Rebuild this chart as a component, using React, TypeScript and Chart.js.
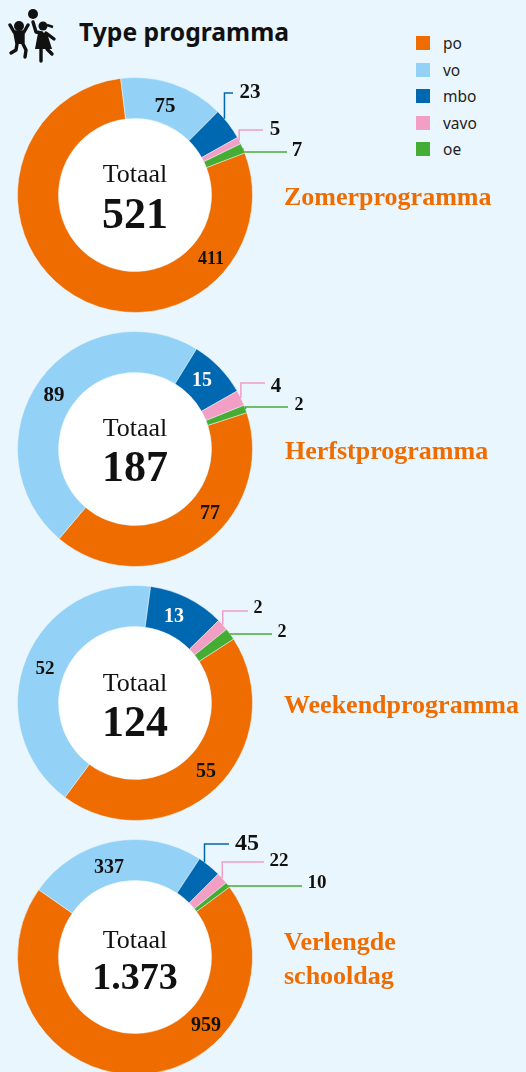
import React, { useEffect, useRef } from "react";
import { Chart, registerables } from "chart.js";

Chart.register(...registerables);

const categories = ["po", "vo", "mbo", "vavo", "oe"];
const colors = ["#EE6C00", "#93D2F6", "#0067B1", "#F29EC5", "#46AD34"];
const programNames = [["Zomerprogramma"], ["Herfstprogramma"], ["Weekendprogramma"], ["Verlengde", "schooldag"]];
const zomerValues = [411, 75, 23, 5, 7];
const herfstValues = [77, 89, 15, 4, 2];
const weekendValues = [55, 52, 13, 2, 2];
const verlengdValues = [959, 337, 45, 22, 10];
const totals = ["521", "187", "124", "1.373"];
const rotations = [69, 72, 57, 53.5];

const BG = "#EAF6FD";
const INK = "#111111";
const SERIF = '"Liberation Serif", serif';
const SANS = '"Noto Sans", sans-serif';

type LabelSpec = { i: number; x: number; y: number; size: number; elbow?: number; end?: number; frac?: number };

const layouts = [
  {
    top: 68, series: zomerValues, titleX: 284, titleY: [206], totalSize: 44, totalY: 22, caption: -20,
    labels: [
      { i: 0, x: 76, y: 64, size: 18 }, { i: 1, x: 30, y: -88, size: 21 },
      { i: 2, x: 115, y: -102, size: 21, elbow: -102, end: 98, frac: 0.3 },
      { i: 3, x: 140, y: -65, size: 21, elbow: -65, end: 128 },
      { i: 4, x: 162, y: -44, size: 21, elbow: -43, end: 152 },
    ] as LabelSpec[],
  },
  {
    top: 322, series: herfstValues, titleX: 285, titleY: [460], totalSize: 44, totalY: 21, caption: -20,
    labels: [
      { i: 0, x: 75, y: 65, size: 20 }, { i: 1, x: -81, y: -53, size: 21 },
      { i: 2, x: 67, y: -68, size: 20 },
      { i: 3, x: 141, y: -62, size: 21, elbow: -66, end: 130 },
      { i: 4, x: 164, y: -44, size: 18, elbow: -42, end: 153 },
    ] as LabelSpec[],
  },
  {
    top: 576, series: weekendValues, titleX: 284, titleY: [714], totalSize: 44, totalY: 22, caption: -19,
    labels: [
      { i: 0, x: 71, y: 69, size: 20 }, { i: 1, x: -90, y: -34, size: 19 },
      { i: 2, x: 39, y: -86, size: 20 },
      { i: 3, x: 123, y: -95, size: 18, elbow: -92, end: 113 },
      { i: 4, x: 147, y: -71, size: 18, elbow: -69, end: 137 },
    ] as LabelSpec[],
  },
  {
    top: 830, series: verlengdValues, titleX: 284, titleY: [951, 985], totalSize: 38, totalY: 22, caption: -16,
    labels: [
      { i: 0, x: 71, y: 69, size: 20 }, { i: 1, x: -26, y: -89, size: 20 },
      { i: 2, x: 112, y: -113, size: 24, elbow: -113, end: 94, frac: 0.25 },
      { i: 3, x: 144, y: -96, size: 19, elbow: -95, end: 129 },
      { i: 4, x: 182, y: -74, size: 19, elbow: -71, end: 167 },
    ] as LabelSpec[],
  },
];

function Donut({ index }: { index: number }) {
  const ref = useRef<HTMLCanvasElement>(null);
  const cfg = layouts[index];
  useEffect(() => {
    const annotate = {
      id: "annotate",
      afterDatasetsDraw(chart: any) {
        const ctx = chart.ctx as CanvasRenderingContext2D;
        const arcs = chart.getDatasetMeta(0).data;
        const cx = arcs[0].x;
        const cy = arcs[0].y;
        ctx.save();
        ctx.textAlign = "center";
        ctx.textBaseline = "middle";
        ctx.fillStyle = INK;
        ctx.font = `400 26px ${SERIF}`;
        ctx.fillText("Totaal", cx, cy + cfg.caption);
        ctx.font = `700 ${cfg.totalSize}px ${SERIF}`;
        ctx.fillText(totals[index], cx, cy + cfg.totalY);
        for (const l of cfg.labels) {
          if (l.elbow !== undefined && l.end !== undefined) {
            const a = arcs[l.i];
            const f = l.frac ?? 0.5;
            const mid = a.startAngle + (a.endAngle - a.startAngle) * f;
            const px = cx + a.outerRadius * Math.cos(mid);
            const py = cy + a.outerRadius * Math.sin(mid);
            ctx.strokeStyle = colors[l.i];
            ctx.lineWidth = 1.5;
            ctx.beginPath();
            ctx.moveTo(px, py);
            ctx.lineTo(px, cy + l.elbow);
            ctx.lineTo(cx + l.end, cy + l.elbow);
            ctx.stroke();
          }
          ctx.fillStyle = l.i === 2 && l.elbow === undefined ? "#FFFFFF" : INK;
          ctx.font = `700 ${l.size}px ${SERIF}`;
          ctx.fillText(String(cfg.series[l.i]), cx + l.x, cy + l.y);
        }
        ctx.restore();
      },
    };
    const chart = new Chart(ref.current!, {
      type: "doughnut",
      data: {
        labels: categories,
        datasets: [{
          data: cfg.series,
          backgroundColor: colors,
          borderColor: BG,
          borderWidth: 0.5,
        }],
      },
      options: {
        responsive: false,
        animation: false,
        cutout: 76.5,
        rotation: rotations[index],
        layout: { padding: { left: 0, right: 256, top: 9.25, bottom: 9.25 } },
        plugins: { legend: { display: false }, tooltip: { enabled: false } },
      },
      plugins: [annotate],
    } as any);
    return () => chart.destroy();
  }, []);
  return (
    <>
      <div style={{ position: "absolute", left: 58, top: cfg.top + 50, width: 154, height: 154, borderRadius: "50%", background: "#fff" }} />
      <canvas ref={ref} width={526} height={254} style={{ position: "absolute", left: 0, top: cfg.top, display: "block" }} />
      {programNames[index].map((name, k) => (
        <div key={name} style={{
          position: "absolute", left: cfg.titleX, top: cfg.titleY[k] - 24, lineHeight: "30px",
          font: `700 26px ${SERIF}`, color: colors[0], whiteSpace: "nowrap",
        }}>{name}</div>
      ))}
    </>
  );
}

function Icon() {
  return (
    <svg width={50} height={56} viewBox="0 0 50 56" style={{ position: "absolute", left: 8, top: 8 }}>
      <circle cx={25} cy={6} r={5} fill={INK} />
      <circle cx={11} cy={18} r={5} fill={INK} />
      <circle cx={35} cy={18} r={4.5} fill={INK} />
      <path d="M39 17l6 2" stroke={INK} strokeWidth={2.5} />
      <g stroke={INK} fill="none" strokeWidth={3.4} strokeLinecap="round" strokeLinejoin="round">
        <path d="M2 17l4 7h10l4-7" />
        <path d="M7 25l2 11-1 6-5 3M15 25l0 11 3 6-1 7" />
        <path d="M25 14l3 10 6 1M38 25l8 6" />
        <path d="M33 41l0 12M39 41l5 5" />
      </g>
      <path d="M6 24h10l0 12H8z" fill={INK} />
      <path d="M30 25h9l5 16H27z" fill={INK} />
    </svg>
  );
}

export default function App() {
  return (
    <div style={{ position: "fixed", left: 0, top: 0, width: 526, height: 1072, overflow: "hidden", background: BG }}>
      <Icon />
      <div style={{ position: "absolute", left: 79, top: 14, font: `700 24.7px/36px ${SANS}`, color: INK, whiteSpace: "nowrap" }}>Type programma</div>
      {categories.map((c, i) => (
        <React.Fragment key={c}>
          <div style={{ position: "absolute", left: 416, top: 36 + i * 26.6, width: 14, height: 14, background: colors[i] }} />
          <div style={{ position: "absolute", left: 443, top: 33 + i * 26.6, font: `400 15.5px/20px ${SANS}`, color: "#222" }}>{c}</div>
        </React.Fragment>
      ))}
      {layouts.map((_, i) => <Donut key={i} index={i} />)}
    </div>
  );
}
